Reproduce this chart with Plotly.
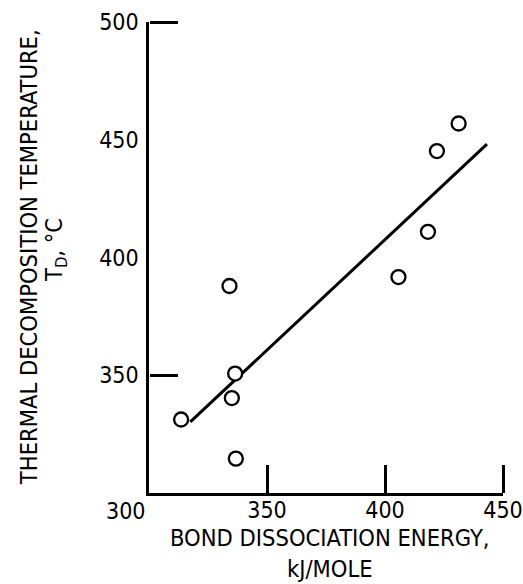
import plotly.graph_objects as go

# Data
bde = [313.6, 336.5, 335.1, 336.8, 334.1, 405.7, 418.2, 422.0, 431.2]   # kJ/mole
td = [331.2, 350.7, 340.3, 314.6, 387.9, 391.7, 410.9, 445.2, 456.9]    # deg C
fit_x = [317.5, 443.2]
fit_y = [330.2, 448.1]
x_ticks = [350, 400, 450]
y_ticks = [350, 400, 450, 500]
y_tick_marks = [350, 500]
x_range = [300, 450]
y_range = [300, 500]

FONT = "DejaVu Sans Condensed, Liberation Sans Narrow, sans-serif"
FS_TICK = 23
FS_TITLE = 23.5

fig = go.Figure()
fig.add_trace(go.Scatter(x=fit_x, y=fit_y, mode="lines",
                         line=dict(color="black", width=3), showlegend=False,
                         hoverinfo="skip"))
fig.add_trace(go.Scatter(x=bde, y=td, mode="markers", xaxis="x2", yaxis="y2",
                         marker=dict(symbol="circle", size=14, color="white",
                                     line=dict(color="black", width=2.3)),
                         showlegend=False, cliponaxis=False))

axis_common = dict(showgrid=False, zeroline=False, color="black", automargin=False,
                   tickfont=dict(family=FONT, size=FS_TICK, color="black"))
tick_axis = dict(showticklabels=False, showline=False, showgrid=False,
                 zeroline=False, automargin=False, ticks="outside", ticklen=28,
                 tickwidth=2.5, tickcolor="black", anchor="free", position=0)

fig.update_layout(
    width=523, height=584,
    margin=dict(l=149, r=20, t=22, b=91, autoexpand=False),
    paper_bgcolor="white", plot_bgcolor="white",
    font=dict(family=FONT, size=FS_TICK, color="black"),
    # label axes (spines + numbers)
    xaxis=dict(range=x_range, tickvals=x_ticks, ticks="", showline=True,
               linewidth=2.5, linecolor="black", ticklabelstandoff=-5,
               **axis_common),
    yaxis=dict(range=y_range, tickvals=y_ticks, ticks="", showline=True,
               linewidth=2.5, linecolor="black", ticklabelstandoff=3,
               **axis_common),
    # tick-mark axes: ticks pointing into the plot from the spines
    xaxis2=dict(range=x_range, overlaying="x", side="top", tickvals=x_ticks,
                **tick_axis),
    yaxis2=dict(range=y_range, overlaying="y", side="right",
                tickvals=y_tick_marks, **tick_axis),
    annotations=[
        dict(text="300", x=-0.065, y=-0.039, xref="paper", yref="paper",
             xanchor="center", yanchor="middle", showarrow=False,
             font=dict(family=FONT, size=FS_TICK)),
        dict(text="BOND DISSOCIATION ENERGY,<br>kJ/MOLE", x=0.51, y=-0.1285,
             xref="paper", yref="paper", xanchor="center", yanchor="middle",
             align="center", showarrow=False,
             font=dict(family=FONT, size=FS_TITLE)),
        dict(text="THERMAL DECOMPOSITION TEMPERATURE,", x=-0.34, y=0.5,
             xref="paper", yref="paper", xanchor="center", yanchor="middle",
             textangle=-90, showarrow=False, font=dict(family=FONT, size=FS_TITLE)),
        dict(text="T<sub>D</sub>, °C", x=-0.264, y=0.515,
             xref="paper", yref="paper", xanchor="center", yanchor="middle",
             textangle=-90, showarrow=False, font=dict(family=FONT, size=FS_TITLE)),
    ],
)

# remove the default 8px page margin so the 523x584 figure fills the window
fig.write_html("out.html", config={"displayModeBar": False},
               post_script="document.body.style.margin='0px';"
                           "document.body.style.overflow='hidden';")
